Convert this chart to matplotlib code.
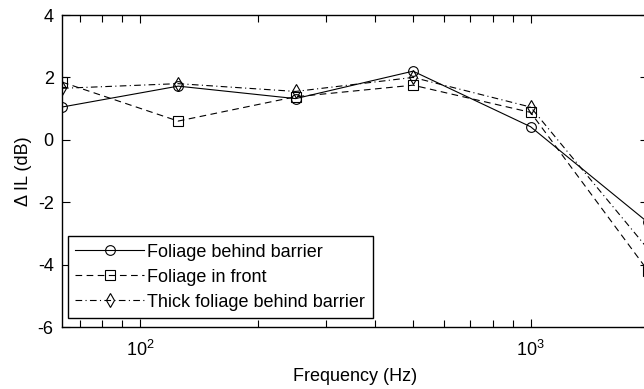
import matplotlib
matplotlib.use("Agg")
import matplotlib.pyplot as plt
from matplotlib.ticker import LogLocator, NullFormatter
import numpy as np

plt.rcParams['font.family'] = ['Liberation Sans', 'DejaVu Sans']
plt.rcParams['mathtext.fontset'] = 'custom'
plt.rcParams['mathtext.rm'] = 'Liberation Sans'
plt.rcParams['axes.unicode_minus'] = False

# octave band centre frequencies (Hz)
freq = [63, 125, 250, 500, 1000, 2000]

# change in insertion loss (dB)
behind = [1.05, 1.72, 1.32, 2.2, 0.42, -2.65]
front = [1.85, 0.6, 1.38, 1.75, 0.88, -4.2]
thick = [1.65, 1.8, 1.55, 2.0, 1.05, -3.5]

labels = ['Foliage behind barrier', 'Foliage in front', 'Thick foliage behind barrier']

fig = plt.figure(figsize=(6.44, 3.89), dpi=100)
ax = fig.add_axes([62/644, 62/389, 586/644, 312/389])

ax.plot(freq, behind, '-', color='black', lw=0.8, marker='o', ms=7,
        mfc='none', mec='black', mew=0.8, label=labels[0])
ax.plot(freq, front, '--', color='black', lw=0.8, marker='s', ms=7,
        mfc='none', mec='black', mew=0.8, dashes=(6, 4), label=labels[1])
ax.plot(freq, thick, '-.', color='black', lw=0.8, marker='d', ms=7,
        mfc='none', mec='black', mew=0.8, dashes=(6, 3, 1, 3), label=labels[2])

ax.set_xscale('log')
ax.set_xlim(63, 2000)
ax.set_ylim(-6, 4)
ax.set_yticks([-6, -4, -2, 0, 2, 4])
ax.xaxis.set_major_locator(LogLocator(base=10))
ax.xaxis.set_minor_locator(LogLocator(base=10, subs=np.arange(2, 10)))
ax.xaxis.set_minor_formatter(NullFormatter())

ax.tick_params(which='both', direction='in', top=True, right=True,
               labelsize=13, width=0.8, color='black')
ax.tick_params(axis='x', which='major', length=6, pad=9)
ax.tick_params(axis='y', which='major', length=6, pad=6)
ax.tick_params(which='minor', length=5)
for s in ax.spines.values():
    s.set_linewidth(1.0)

ax.set_xlabel('Frequency (Hz)', fontsize=13, labelpad=6)
ax.set_ylabel('Δ IL (dB)', fontsize=13, labelpad=4)

leg = ax.legend(loc='lower left', bbox_to_anchor=(68/644, 71/389),
                bbox_transform=fig.transFigure, borderaxespad=0,
                fontsize=13, fancybox=False, framealpha=1, edgecolor='black',
                handlelength=3.8, handletextpad=0.2, borderpad=0.4,
                labelspacing=0.45)
leg.get_frame().set_linewidth(1.0)

fig.savefig('out.png', dpi=100)
